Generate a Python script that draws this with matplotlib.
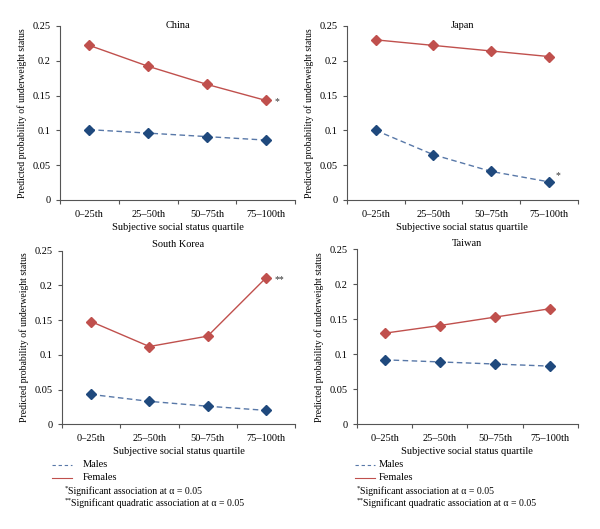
import matplotlib.pyplot as plt
from matplotlib.lines import Line2D

plt.rcParams['font.family'] = ['Liberation Serif', 'DejaVu Serif']

quartiles = ['0–25th', '25–50th', '50–75th', '75–100th']

countries = ['China', 'Japan', 'South Korea', 'Taiwan']
females_china = [0.222, 0.192, 0.166, 0.143]
males_china = [0.101, 0.096, 0.091, 0.086]
females_japan = [0.230, 0.222, 0.214, 0.206]
males_japan = [0.100, 0.065, 0.041, 0.026]
females_korea = [0.148, 0.112, 0.127, 0.211]
males_korea = [0.043, 0.033, 0.026, 0.020]
females_taiwan = [0.130, 0.141, 0.153, 0.165]
males_taiwan = [0.092, 0.089, 0.086, 0.083]

females = [females_china, females_japan, females_korea, females_taiwan]
males = [males_china, males_japan, males_korea, males_taiwan]
# significance mark and the series it sits next to
stars = ['*', '*', '**', '']
star_series = ['f', 'm', 'f', '']

yticks = [0, 0.05, 0.1, 0.15, 0.2, 0.25]
ytick_labels = ['0', '0.05', '0.1', '0.15', '0.2', '0.25']

red = '#C0504D'
blue = '#1F497D'
blue_line = '#5878A8'
axis_col = '#555555'

fig = plt.figure(figsize=(6, 5.29), dpi=100)

positions = [
    [0.100, 0.622, 0.392, 0.329],
    [0.578, 0.622, 0.385, 0.329],
    [0.103, 0.198, 0.389, 0.328],
    [0.595, 0.198, 0.368, 0.331],
]
title_y = [1.0, 1.0, 1.035, 1.035]

x = list(range(len(quartiles)))

for i, name in enumerate(countries):
    ax = fig.add_axes(positions[i])
    ax.plot(x, males[i], color=blue_line, linestyle=(0, (4, 2.5)), linewidth=1.0,
            marker='D', markersize=5, markerfacecolor=blue, markeredgecolor=blue)
    ax.plot(x, females[i], color=red, linewidth=1.0,
            marker='D', markersize=5, markerfacecolor=red, markeredgecolor=red)

    ax.set_xlim(-0.5, 3.5)
    ax.set_ylim(0, 0.25)
    ax.set_yticks(yticks)
    ax.set_yticklabels(ytick_labels)
    ax.set_xticks([k - 0.5 for k in range(5)])
    ax.set_xticklabels([])
    ax.set_xticks(x, minor=True)
    ax.set_xticklabels(quartiles, minor=True)
    ax.tick_params(axis='x', which='minor', length=0, labelsize=7.5, pad=7)
    ax.tick_params(axis='x', which='major', length=3, color=axis_col)
    ax.tick_params(axis='y', length=3, color=axis_col, labelsize=7.5)

    for s in ['top', 'right']:
        ax.spines[s].set_visible(False)
    for s in ['left', 'bottom']:
        ax.spines[s].set_color(axis_col)
        ax.spines[s].set_linewidth(0.8)

    ax.text(0.5, title_y[i], name, transform=ax.transAxes, ha='center', va='center',
            fontsize=7.5)
    ax.set_xlabel('Subjective social status quartile', fontsize=7.5, labelpad=3)
    ax.set_ylabel('Predicted probability of underweight status', fontsize=7, labelpad=4)

    if stars[i]:
        if star_series[i] == 'f':
            ax.annotate(stars[i], (3, females[i][3]), xytext=(6, -1),
                        textcoords='offset points', fontsize=7, color='#333333', va='center')
        else:
            ax.annotate(stars[i], (3, males[i][3]), xytext=(5, 1),
                        textcoords='offset points', fontsize=7, color='#333333', va='bottom')

# legends under the bottom panels: (line start, line end, label x, footnote x) in pixels
legend_px = [(52, 72, 83, 65), (355, 375, 379, 357)]
for l0, l1, tx, fx in legend_px:
    fig.add_artist(Line2D([l0 / 600, l1 / 600], [0.121, 0.121], color=blue_line,
                          linestyle=(0, (3, 2.5)), linewidth=0.8))
    fig.add_artist(Line2D([l0 / 600, l1 / 600], [0.097, 0.097], color=red, linewidth=0.8))
    fig.text(tx / 600, 0.121, 'Males', fontsize=7.5, va='center')
    fig.text(tx / 600, 0.097, 'Females', fontsize=7.5, va='center')
    fig.text(fx / 600, 0.077, '*', fontsize=5, va='center')
    fig.text((fx + 3) / 600, 0.072, 'Significant association at α = 0.05',
             fontsize=7, va='center')
    fig.text(fx / 600, 0.054, '**', fontsize=5, va='center')
    fig.text((fx + 6) / 600, 0.049, 'Significant quadratic association at α = 0.05',
             fontsize=7, va='center')

fig.savefig('out.png', dpi=100)
